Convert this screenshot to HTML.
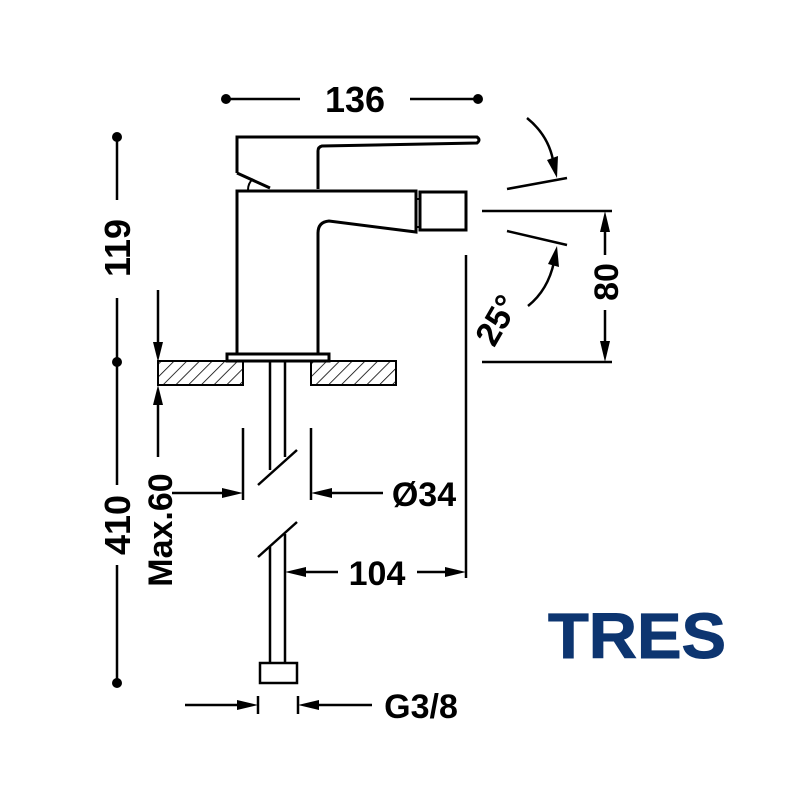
<!DOCTYPE html>
<html><head><meta charset="utf-8"><style>
html,body{margin:0;padding:0;background:#fff;}
svg{display:block;}
text{font-family:"Liberation Sans",Arial,sans-serif;font-weight:bold;fill:#000;}
</style></head><body>
<svg width="789" height="790" viewBox="0 0 789 790" xmlns="http://www.w3.org/2000/svg">
<defs>
<pattern id="h" patternUnits="userSpaceOnUse" width="9" height="9" patternTransform="rotate(45)">
<line x1="0" y1="0" x2="0" y2="9" stroke="#000" stroke-width="1.6"/>
</pattern>
</defs>
<g stroke="#000" fill="none" stroke-width="2.5">
<line x1="226" y1="99" x2="300" y2="99"/>
<line x1="410" y1="99" x2="478" y2="99"/>
<line x1="117" y1="137" x2="117" y2="200"/>
<line x1="117" y1="298" x2="117" y2="362"/>
<line x1="117" y1="362" x2="117" y2="485"/>
<line x1="117" y1="565" x2="117" y2="683"/>
<path d="M237 173 L237 137 L477 137 Q481 140 477 143 L322 146 Q318 147 318 151 L318 189" stroke-width="3"/>
<path d="M237 173 L270 188" stroke-width="3"/>
<path d="M248 190 Q248 183 253 179" stroke-width="2"/>
<path d="M237 353 L237 191 L416 191 L416 232 L329 221 Q318 222 318 233 L318 353" stroke-width="3"/>
<rect x="416" y="199" width="4" height="28" stroke-width="2"/>
<rect x="420" y="192" width="46" height="38" stroke-width="3"/>
<rect x="227" y="354" width="102" height="7" stroke-width="3"/>
<rect x="158" y="361" width="85" height="24" fill="url(#h)" stroke-width="2"/>
<rect x="311" y="361" width="85" height="24" fill="url(#h)" stroke-width="2"/>
<line x1="270" y1="361" x2="270" y2="470"/>
<line x1="285" y1="361" x2="285" y2="457"/>
<line x1="258" y1="485" x2="297" y2="450"/>
<line x1="258" y1="557" x2="297" y2="522"/>
<line x1="270" y1="547" x2="270" y2="663"/>
<line x1="285" y1="534" x2="285" y2="663"/>
<rect x="260" y="663" width="37" height="20"/>
<line x1="243" y1="428" x2="243" y2="500"/>
<line x1="311" y1="428" x2="311" y2="500"/>
<line x1="172" y1="493" x2="225" y2="493"/>
<line x1="330" y1="493" x2="383" y2="493"/>
<line x1="466" y1="255" x2="466" y2="578"/>
<line x1="300" y1="572" x2="338" y2="572"/>
<line x1="417" y1="572" x2="448" y2="572"/>
<line x1="185" y1="705" x2="240" y2="705"/>
<line x1="258" y1="696" x2="258" y2="714"/>
<line x1="298" y1="696" x2="298" y2="714"/>
<line x1="316" y1="705" x2="372" y2="705"/>
<line x1="482" y1="211" x2="612" y2="211"/>
<line x1="482" y1="362" x2="612" y2="362"/>
<line x1="605" y1="230" x2="605" y2="255"/>
<line x1="605" y1="310" x2="605" y2="343"/>
<line x1="507" y1="189" x2="567" y2="178"/>
<line x1="507" y1="231" x2="567" y2="245"/>
<path d="M527 118 Q548 135 553 160"/>
<path d="M528 306 Q548 290 554 262"/>
<line x1="158" y1="290" x2="158" y2="345"/>
<line x1="158" y1="402" x2="158" y2="457"/>
</g>
<g fill="#000">
<circle cx="226" cy="99" r="5"/><circle cx="478" cy="99" r="5"/>
<circle cx="117" cy="137" r="5"/><circle cx="117" cy="362" r="5"/><circle cx="117" cy="683" r="5"/>
<polygon points="243,493 222,488 222,498"/>
<polygon points="311,493 332,488 332,498"/>
<polygon points="285,572 306,567 306,577"/>
<polygon points="466,572 445,567 445,577"/>
<polygon points="258,705 237,700 237,710"/>
<polygon points="298,705 319,700 319,710"/>
<polygon points="605,211 600,232 610,232"/>
<polygon points="605,362 600,341 610,341"/>
<polygon points="158,362 153,342 163,342"/>
<polygon points="158,385 153,405 163,405"/>
<polygon points="557,178 547,160 558,156"/>
<polygon points="557,246 548,264 559,267"/>
</g>
<text x="355" y="112" font-size="36" text-anchor="middle">136</text>
<text transform="translate(130,248) rotate(-90)" font-size="36" text-anchor="middle">119</text>
<text transform="translate(130,525) rotate(-90)" font-size="36" text-anchor="middle">410</text>
<text transform="translate(172,530) rotate(-90)" font-size="34" text-anchor="middle">Max.60</text>
<text transform="translate(618,282) rotate(-90)" font-size="34" text-anchor="middle">80</text>
<text transform="translate(507,326) rotate(-60)" font-size="34" text-anchor="middle">25°</text>
<text x="424" y="506" font-size="34" text-anchor="middle">Ø34</text>
<text x="377" y="585" font-size="34" text-anchor="middle">104</text>
<text x="421" y="718" font-size="34" text-anchor="middle">G3/8</text>
<text x="548" y="658" font-size="64" style="fill:#0d3570;stroke:#0d3570;stroke-width:1" textLength="178" lengthAdjust="spacingAndGlyphs">TRES</text>
</svg>
</body></html>
